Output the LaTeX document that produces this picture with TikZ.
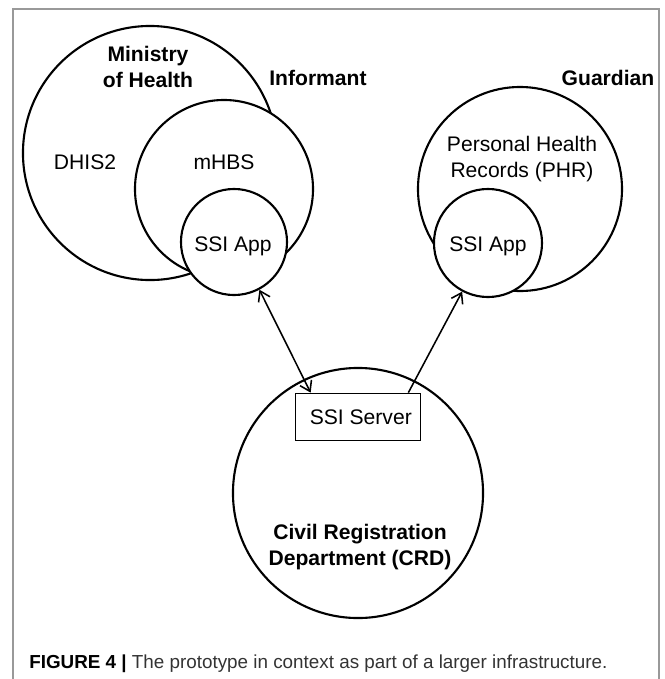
\documentclass[tikz,border=0pt]{standalone}
\usepackage{fontspec}
\setmainfont{Liberation Sans}
\usetikzlibrary{arrows.meta}

\tikzset{barb/.tip={Straight Barb[length=2.4mm,width=3.2mm]}}

\begin{document}
\begin{tikzpicture}[x=0.025cm,y=-0.025cm,
    ring/.style={circle,draw,line width=1.5pt,fill=white,inner sep=0pt},
    txt/.style={font=\fontsize{15}{19}\selectfont,align=center},
    btxt/.style={txt,font=\fontsize{15}{19}\selectfont\bfseries},
    link/.style={line width=1.1pt}]
  \useasboundingbox (0,0) rectangle (665,679);
  % frame
  \draw[gray!80,line width=1.1pt] (13,679) -- (13,9) -- (659,9) -- (659,679);
  % informant side
  \node[ring,minimum size=6.35cm](moh)at(150,153){};
  \node[ring,minimum size=4.45cm](mhbs)at(224,189){};
  \node[ring,minimum size=2.65cm](appL)at(234,242){};
  % guardian side
  \node[ring,minimum size=5.1cm](phr)at(520,189){};
  \node[ring,minimum size=2.7cm](appR)at(488,243){};
  % crd
  \node[ring,minimum size=6.25cm](crd)at(358,493){};
  \node[draw,line width=1.2pt,fill=white,minimum width=3.125cm,minimum height=1.175cm,txt](srv)at(358,417){\hspace{4pt}SSI Server};
  % labels
  \node[btxt](mohlbl)at(148,67){Ministry\\of Health};
  \node[txt](dhis)at(85,162){DHIS2};
  \node[txt](mhbslbl)at(224,162){mHBS};
  \node[txt](appLlbl)at(233,246){SSI App};
  \node[btxt](inf)at(318,78){Informant};
  \node[btxt](grd)at(608,78){Guardian};
  \node[txt](phrlbl)at(522,159){Personal Health\\Records (PHR)};
  \node[txt](appRlbl)at(488,246){SSI App};
  \node[btxt](crdlbl)at(360,547){Civil Registration\\Department (CRD)};
  % connectors
  \draw[link,barb-barb](appL.-62)--([xshift=0.4cm]srv.north west);
  \draw[link,-barb]([xshift=-0.325cm]srv.north east)--(appR.-118);
  % caption
  \node[anchor=west,inner sep=0pt,font=\fontsize{13.4}{15}\selectfont](cap)at(29,664){\textbf{FIGURE 4 |} \textcolor{black!80}{The prototype in context as part of a larger infrastructure.}};
\end{tikzpicture}
\end{document}
